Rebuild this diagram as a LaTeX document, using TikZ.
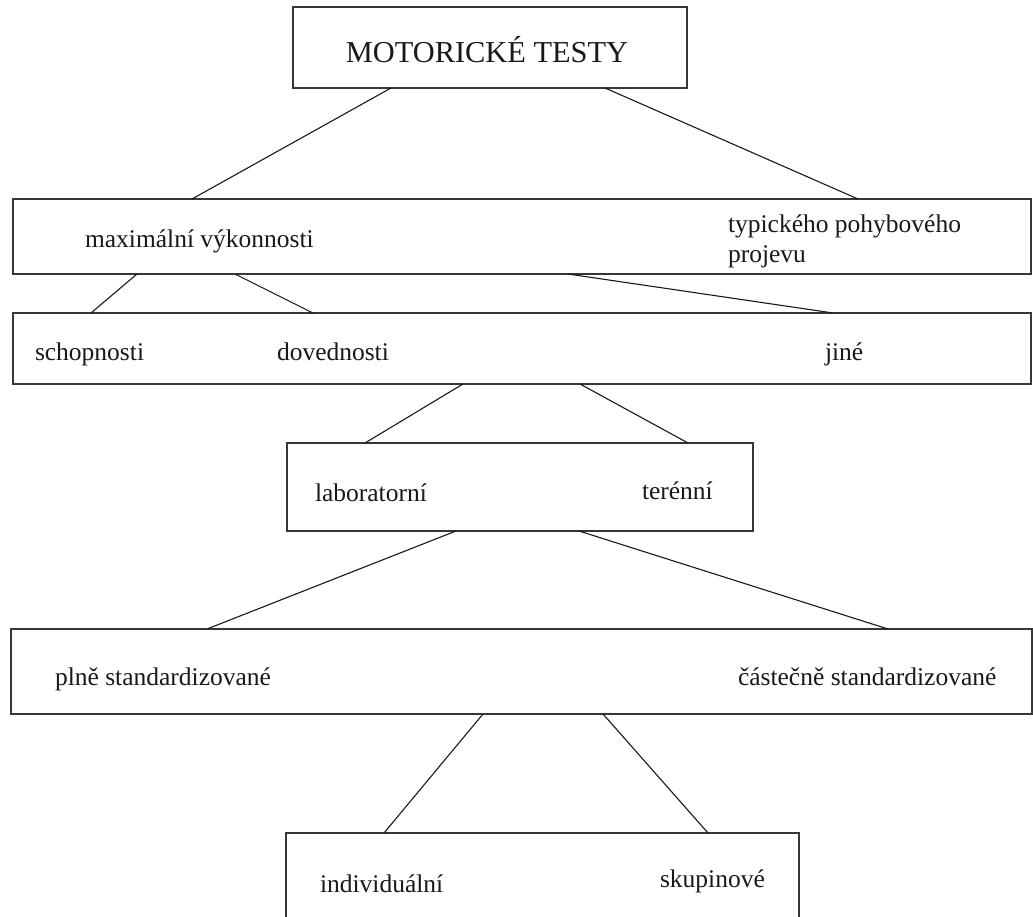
\documentclass[tikz,border=0pt]{standalone}
\usepackage{fontspec}
\setmainfont{Liberation Serif}
\usetikzlibrary{calc}
\definecolor{edge}{RGB}{55,55,55}
\definecolor{ink}{RGB}{25,25,25}
\tikzset{
  box/.style={draw=edge, line width=1.6pt, fill=white, rectangle, inner sep=0pt, outer sep=0pt, anchor=north west},
  lbl/.style={inner sep=0pt, outer sep=0pt, anchor=base west, text=ink, font=\fontsize{25.5}{29}\selectfont},
  ttl/.style={inner sep=0pt, outer sep=0pt, anchor=base, text=ink, font=\fontsize{30.4}{34}\selectfont},
  conn/.style={draw=ink, line width=1.1pt}
}
\begin{document}
\begin{tikzpicture}[x=1pt,y=-1pt]
\clip (0,0) rectangle (1033,917);
\fill[white] (0,0) rectangle (1033,917);
% boxes
\node[box, minimum width=394pt, minimum height=81pt] (title) at (293,7) {};
\node[box, minimum width=1018pt, minimum height=75pt] (b2) at (13,199) {};
\node[box, minimum width=1018pt, minimum height=71pt] (b3) at (13,313) {};
\node[box, minimum width=466pt, minimum height=88pt] (b4) at (287,443) {};
\node[box, minimum width=1021pt, minimum height=85pt] (b5) at (11,629) {};
\node[box, minimum width=513pt, minimum height=120pt] (b6) at (286,833) {};
% texts
\node[ttl] (tt) at (487,63) {MOTORICKÉ TESTY};
\node[lbl] (t21) at (85,248) {maximální výkonnosti};
\node[lbl] (t22) at (728,233) {typického pohybového};
\node[lbl] (t23) at (728,262) {projevu};
\node[lbl] (t31) at (35,360) {schopnosti};
\node[lbl] (t32) at (277,360) {dovednosti};
\node[lbl] (t33) at (825,360) {jiné};
\node[lbl] (t41) at (315,501) {laboratorní};
\node[lbl] (t42) at (642,499) {terénní};
\node[lbl] (t51) at (55,685) {plně standardizované};
\node[lbl] (t52) at (738,685) {částečně standardizované};
\node[lbl] (t61) at (320,892) {individuální};
\node[lbl] (t62) at (660,887) {skupinové};
% connectors
\draw[conn] ([xshift=98pt]title.south west) -- ([xshift=179pt]b2.north west);
\draw[conn] ([xshift=312pt]title.south west) -- ([xshift=845pt]b2.north west);
\draw[conn] ([xshift=124pt]b2.south west) -- ([xshift=78pt]b3.north west);
\draw[conn] ([xshift=222pt]b2.south west) -- ([xshift=300pt]b3.north west);
\draw[conn] ([xshift=555pt]b2.south west) -- ([xshift=820pt]b3.north west);
\draw[conn] ([xshift=450pt]b3.south west) -- ([xshift=78pt]b4.north west);
\draw[conn] ([xshift=567pt]b3.south west) -- ([xshift=401pt]b4.north west);
\draw[conn] ([xshift=169pt]b4.south west) -- ([xshift=196pt]b5.north west);
\draw[conn] ([xshift=292pt]b4.south west) -- ([xshift=877pt]b5.north west);
\draw[conn] ([xshift=472pt]b5.south west) -- ([xshift=98pt]b6.north west);
\draw[conn] ([xshift=592pt]b5.south west) -- ([xshift=422pt]b6.north west);
\end{tikzpicture}
\end{document}
